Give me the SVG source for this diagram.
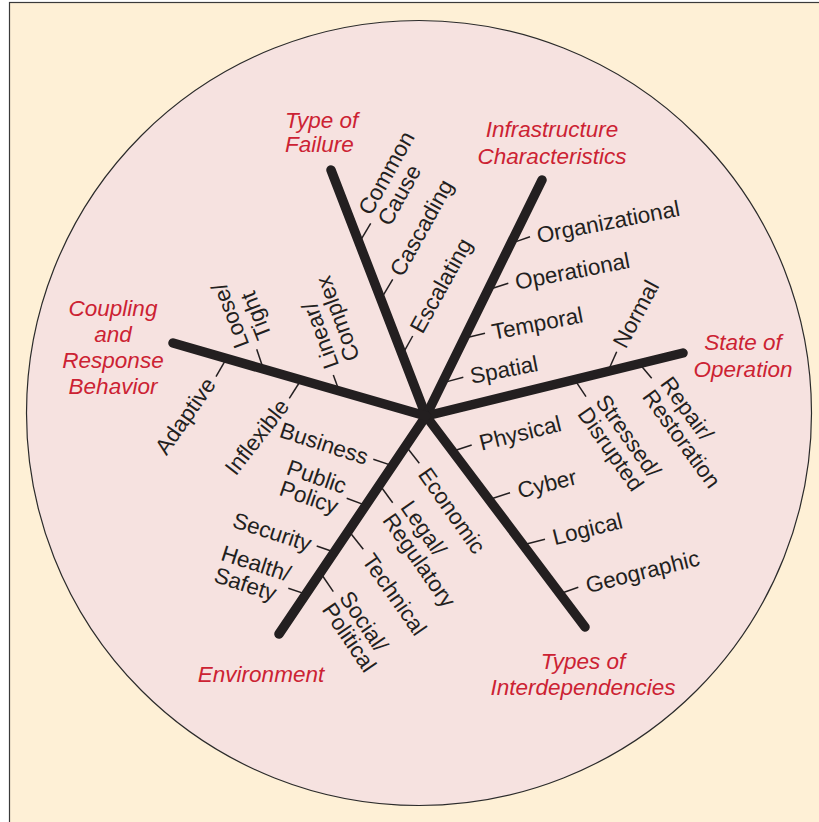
<svg xmlns="http://www.w3.org/2000/svg" width="819" height="822" viewBox="0 0 819 822">
<style>
.frame{fill:#FEF0D6;stroke:#3a3a3a;stroke-width:1.2}
.disc{fill:#F6E2E0;stroke:#2b2b2b;stroke-width:1.2}
.spoke{stroke:#231F20;stroke-width:9.5;stroke-linecap:round;fill:none}
.tick{stroke:#231F20;stroke-width:1.5;fill:none}
.lbl{font-family:"Liberation Sans",Arial,sans-serif;font-size:22.5px;fill:#231F20}
.end{text-anchor:end}
.ttl{font-family:"Liberation Sans",Arial,sans-serif;font-size:22.5px;font-style:italic;fill:#CC2233}
.mid{text-anchor:middle}
</style>
<rect x="0" y="0" width="819" height="822" fill="#ffffff"/>
<rect class="frame" x="9.5" y="2.5" width="820" height="830"/>
<circle class="disc" cx="419" cy="413" r="392.5"/>

<g id="ticks">
<line class="tick" x1="359.2" y1="242.6" x2="370.7" y2="223.3"/>
<line class="tick" x1="380.8" y1="299.3" x2="392.7" y2="279.3"/>
<line class="tick" x1="402.5" y1="354.3" x2="412.7" y2="336"/>
<line class="tick" x1="514.5" y1="242.1" x2="530" y2="236.7"/>
<line class="tick" x1="491.2" y1="288.7" x2="508.3" y2="283.3"/>
<line class="tick" x1="465.2" y1="338.1" x2="485" y2="333.3"/>
<line class="tick" x1="445.2" y1="382.1" x2="463.3" y2="377.3"/>
<line class="tick" x1="608" y1="371.3" x2="616.7" y2="351.7"/>
<line class="tick" x1="575.5" y1="380.9" x2="586" y2="396.7"/>
<line class="tick" x1="640.1" y1="364.5" x2="651.7" y2="378.3"/>
<line class="tick" x1="451.9" y1="451.5" x2="471.7" y2="445"/>
<line class="tick" x1="488.5" y1="499.8" x2="510" y2="492.7"/>
<line class="tick" x1="523.5" y1="544.8" x2="545" y2="539.3"/>
<line class="tick" x1="558.5" y1="594.2" x2="578.3" y2="587.3"/>
<line class="tick" x1="393" y1="465.9" x2="373.3" y2="459.3"/>
<line class="tick" x1="366.4" y1="505.6" x2="346.7" y2="498.3"/>
<line class="tick" x1="334.7" y1="552.3" x2="316.7" y2="546"/>
<line class="tick" x1="308" y1="594.9" x2="288.3" y2="588.3"/>
<line class="tick" x1="407" y1="447.5" x2="419.3" y2="463.3"/>
<line class="tick" x1="380.3" y1="485.8" x2="392.7" y2="502.7"/>
<line class="tick" x1="348.6" y1="530.8" x2="363.3" y2="549.3"/>
<line class="tick" x1="320.3" y1="572.5" x2="333.3" y2="591.7"/>
<line class="tick" x1="263.3" y1="368.7" x2="256.7" y2="349.3"/>
<line class="tick" x1="339.9" y1="393" x2="333.3" y2="375"/>
<line class="tick" x1="225.8" y1="359.7" x2="216" y2="376.7"/>
<line class="tick" x1="299.4" y1="382.5" x2="289.3" y2="398.3"/>
</g>

<g id="connectors">
<line class="spoke" x1="426" y1="416" x2="331" y2="170"/>
<line class="spoke" x1="426" y1="416" x2="542" y2="180"/>
<line class="spoke" x1="426" y1="416" x2="683" y2="353"/>
<line class="spoke" x1="426" y1="416" x2="585" y2="627"/>
<line class="spoke" x1="426" y1="416" x2="279" y2="634"/>
<line class="spoke" x1="426" y1="416" x2="173" y2="343"/>
</g>

<g id="type-of-failure">
<text class="ttl" x="285" y="127.5">Type of</text>
<text class="ttl" x="285" y="151.5">Failure</text>
<g class="lbl" transform="translate(370.7,223.3) rotate(-61)"><text x="6" y="-3">Common</text><text x="6" y="19">Cause</text></g>
<g class="lbl" transform="translate(392.7,279.3) rotate(-61)"><text x="6" y="8">Cascading</text></g>
<g class="lbl" transform="translate(412.7,336) rotate(-61)"><text x="6" y="8">Escalating</text></g>
</g>

<g id="infrastructure-characteristics">
<text class="ttl mid" x="552" y="137">Infrastructure</text>
<text class="ttl mid" x="552" y="163.5">Characteristics</text>
<g class="lbl" transform="translate(530,236.7) rotate(-11)"><text x="7" y="8">Organizational</text></g>
<g class="lbl" transform="translate(508.3,283.3) rotate(-11)"><text x="7" y="8">Operational</text></g>
<g class="lbl" transform="translate(485,333.3) rotate(-11)"><text x="7" y="8">Temporal</text></g>
<g class="lbl" transform="translate(463.3,377.3) rotate(-11)"><text x="7" y="8">Spatial</text></g>
</g>

<g id="state-of-operation">
<text class="ttl mid" x="743" y="350">State of</text>
<text class="ttl mid" x="743" y="376.5">Operation</text>
<g class="lbl" transform="translate(616.7,351.7) rotate(-62)"><text x="6" y="7">Normal</text></g>
<g class="lbl" transform="translate(586,396.7) rotate(55)"><text x="9" y="-4.5">Stressed/</text><text x="9" y="17.5">Disrupted</text></g>
<g class="lbl" transform="translate(651.7,378.3) rotate(54)"><text x="9" y="-3">Repair/</text><text x="9" y="19">Restoration</text></g>
</g>

<g id="types-of-interdependencies">
<text class="ttl mid" x="583" y="669">Types of</text>
<text class="ttl mid" x="583" y="695">Interdependencies</text>
<g class="lbl" transform="translate(471.7,445) rotate(-14)"><text x="8" y="8">Physical</text></g>
<g class="lbl" transform="translate(510,492.7) rotate(-14)"><text x="8" y="8">Cyber</text></g>
<g class="lbl" transform="translate(545,539.3) rotate(-14)"><text x="8" y="8">Logical</text></g>
<g class="lbl" transform="translate(578.3,587.3) rotate(-14)"><text x="8" y="8">Geographic</text></g>
</g>

<g id="environment">
<text class="ttl mid" x="261" y="681.5">Environment</text>
<g class="lbl" transform="translate(373.3,459.3) rotate(18)"><text class="end" x="-6" y="8">Business</text></g>
<g class="lbl" transform="translate(346.7,498.3) rotate(19)"><text x="-66" y="-3">Public</text><text x="-66" y="19">Policy</text></g>
<g class="lbl" transform="translate(316.7,546) rotate(18)"><text class="end" x="-6" y="8">Security</text></g>
<g class="lbl" transform="translate(288.3,588.3) rotate(18)"><text x="-74" y="-6">Health/</text><text x="-74" y="17">Safety</text></g>
<g class="lbl" transform="translate(419.3,463.3) rotate(55)"><text x="8" y="8">Economic</text></g>
<g class="lbl" transform="translate(392.7,502.7) rotate(55)"><text x="8" y="-3">Legal/</text><text x="8" y="19">Regulatory</text></g>
<g class="lbl" transform="translate(363.3,549.3) rotate(55)"><text x="8" y="8">Technical</text></g>
<g class="lbl" transform="translate(333.3,591.7) rotate(56)"><text x="8" y="-1">Social/</text><text x="8" y="20">Political</text></g>
</g>

<g id="coupling-and-response-behavior">
<text class="ttl mid" x="113" y="316">Coupling</text>
<text class="ttl mid" x="113" y="342">and</text>
<text class="ttl mid" x="113" y="368">Response</text>
<text class="ttl mid" x="113" y="394">Behavior</text>
<g class="lbl" transform="translate(256.7,349.3) rotate(-111)"><text x="7" y="-5">Loose/</text><text x="7" y="19">Tight</text></g>
<g class="lbl" transform="translate(333.3,375) rotate(-110)"><text x="7" y="9">Linear/</text><text x="7" y="31">Complex</text></g>
<g class="lbl" transform="translate(216,376.7) rotate(-55)"><text class="end" x="-6" y="5">Adaptive</text></g>
<g class="lbl" transform="translate(289.3,398.3) rotate(-52)"><text class="end" x="-6" y="6">Inflexible</text></g>
</g>
</svg>
